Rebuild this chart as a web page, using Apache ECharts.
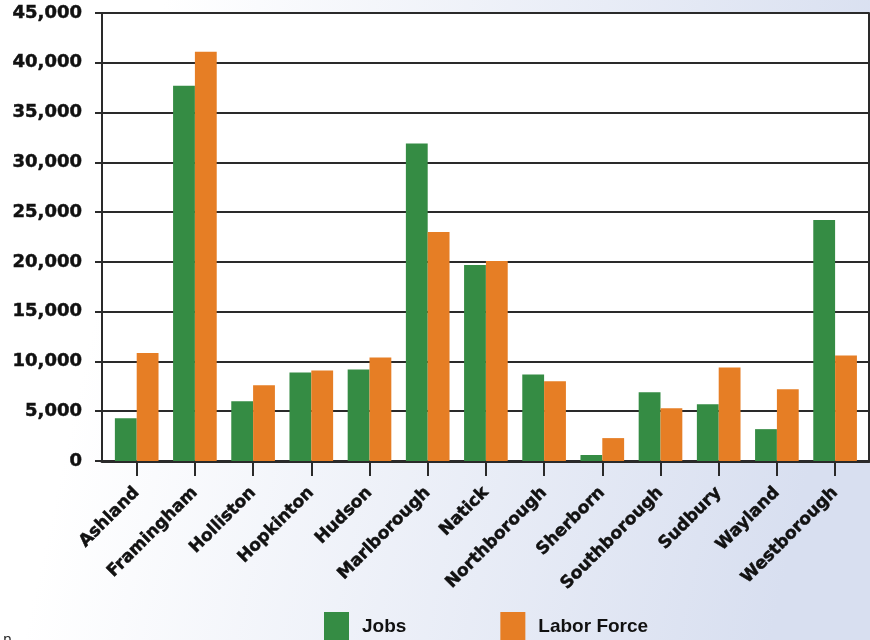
<!DOCTYPE html>
<html>
<head>
<meta charset="utf-8">
<script src="https://cdn.jsdelivr.net/npm/echarts@6/dist/echarts.min.js"></script>
<style>
  html, body { margin: 0; padding: 0; }
  #chart { width: 870px; height: 640px; }
</style>
</head>
<body>
<div id="chart"></div>
<script>
// Jobs vs. resident labor force by town
const towns = ['Ashland', 'Framingham', 'Holliston', 'Hopkinton', 'Hudson', 'Marlborough',
  'Natick', 'Northborough', 'Sherborn', 'Southborough', 'Sudbury', 'Wayland', 'Westborough'];
const jobs = [4300, 37700, 6000, 8900, 9200, 31900, 19700, 8700, 600, 6900, 5700, 3200, 24200];
const laborForce = [10850, 41100, 7600, 9100, 10400, 23000, 20100, 8000, 2300, 5300, 9400, 7200, 10600];
const seriesNames = ['Jobs', 'Labor Force'];
const yMin = 0, yMax = 45000, yStep = 5000;

const GREEN = '#358C44';
const ORANGE = '#E67E25';
const INK = '#111111';
const LINE = '#2a2a2a';
const labelFont = 'DejaVu Sans';

const chart = echarts.init(document.getElementById('chart'), null, { renderer: 'canvas' });

const fmt = v => Number(v).toLocaleString('en-US');

chart.setOption({
  animation: false,
  backgroundColor: {
    type: 'linear', x: 0, y: 0, x2: 1, y2: 0.3,
    colorStops: [
      { offset: 0, color: '#ffffff' },
      { offset: 0.18, color: '#ffffff' },
      { offset: 1, color: '#d8dff0' }
    ]
  },
  grid: [
    // frame: white plot box, gridlines, value labels
    { left: 102, right: 1, top: 13, bottom: 179, show: true, backgroundColor: '#ffffff', borderWidth: 0 },
    // bars, inset slightly from the frame
    { left: 107.6, right: 5.8, top: 13, bottom: 179 }
  ],
  legend: {
    data: seriesNames,
    left: 324,
    top: 612,
    padding: 0,
    itemWidth: 25,
    itemHeight: 30,
    itemGap: 94,
    icon: 'rect',
    textStyle: {
      fontFamily: '"Liberation Sans", sans-serif',
      fontWeight: 'bold',
      fontSize: 19,
      color: INK,
      padding: [0, 0, 0, 8]
    }
  },
  xAxis: [
    {
      gridIndex: 0, type: 'value', min: 0, max: 1,
      axisLine: { show: true, onZero: false, lineStyle: { color: LINE, width: 3 } },
      axisTick: { show: false }, axisLabel: { show: false }, splitLine: { show: false }
    },
    {
      gridIndex: 1, type: 'category', data: towns,
      axisLine: { show: false },
      axisTick: { show: true, alignWithLabel: true, length: 15, lineStyle: { color: LINE, width: 2 } },
      axisLabel: {
        interval: 0, rotate: 45, margin: 29,
        fontFamily: labelFont, fontWeight: 'bold', fontSize: 17, color: INK,
        textBorderColor: INK, textBorderWidth: 0.5
      }
    }
  ],
  yAxis: [
    {
      gridIndex: 0, type: 'value', min: yMin, max: yMax, interval: yStep,
      axisLine: { show: true, lineStyle: { color: LINE, width: 2 } },
      axisTick: { show: true, length: 7, lineStyle: { color: LINE, width: 2 } },
      axisLabel: {
        margin: 20, formatter: fmt,
        fontFamily: labelFont, fontWeight: 'bold', fontSize: 18, color: INK,
        textBorderColor: INK, textBorderWidth: 0.5
      },
      splitLine: { show: true, lineStyle: { color: LINE, width: 2 } }
    },
    {
      gridIndex: 0, type: 'value', position: 'right', min: yMin, max: yMax, interval: yStep,
      axisLine: { show: true, lineStyle: { color: LINE, width: 2 } },
      axisTick: { show: false }, axisLabel: { show: false }, splitLine: { show: false }
    },
    {
      gridIndex: 1, type: 'value', min: yMin, max: yMax, interval: yStep, show: false
    }
  ],
  series: [
    {
      name: seriesNames[0], type: 'bar', xAxisIndex: 1, yAxisIndex: 2,
      data: jobs, itemStyle: { color: GREEN },
      barGap: '0%', barCategoryGap: '25%'
    },
    {
      name: seriesNames[1], type: 'bar', xAxisIndex: 1, yAxisIndex: 2,
      data: laborForce, itemStyle: { color: ORANGE },
      barGap: '0%', barCategoryGap: '25%'
    }
  ],
  graphic: [
    {
      type: 'text', left: 3, top: 633, silent: true,
      style: { text: 'n', font: '14px "DejaVu Sans"', fill: '#222' }
    }
  ]
});
</script>
</body>
</html>
